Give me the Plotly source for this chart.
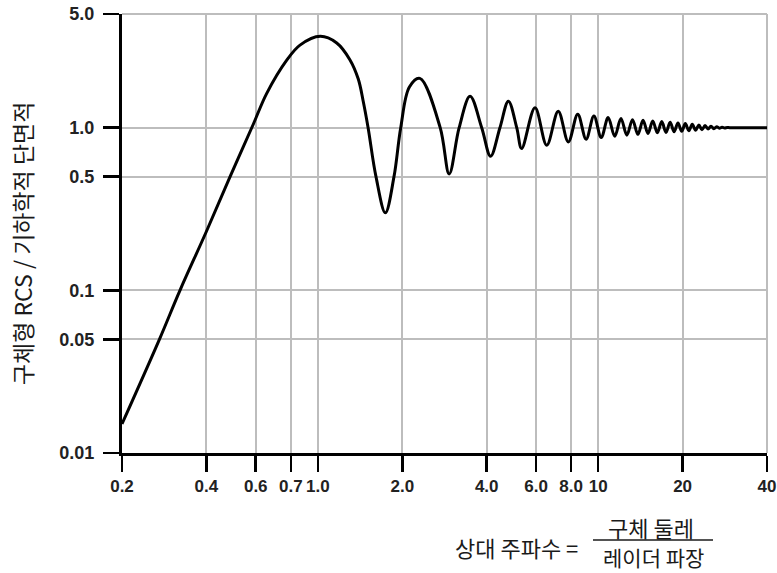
import math
import plotly.graph_objects as go

# Relative frequency (sphere circumference / radar wavelength)
ka = [0.2, 0.272, 0.322, 0.40, 0.486, 0.588, 0.656, 0.774, 0.863, 1.02,
      1.167, 1.30, 1.393, 1.45, 1.51, 1.611, 1.74, 1.868, 1.974, 2.12,
      2.31, 2.73, 2.94, 3.19, 3.49, 3.84, 4.13, 4.46, 4.78, 5.12,
      5.33, 5.95, 6.55, 7.2, 7.82, 8.45, 9.05, 9.65, 10.25, 10.85,
      11.45, 12.05, 12.65, 13.25, 13.85, 14.45, 15.05, 15.65, 16.25, 16.85,
      17.45, 18.05, 18.65, 19.25, 19.85, 20.45, 21.05, 21.65, 22.25, 22.85,
      23.45, 24.05, 24.65, 25.25, 25.85, 26.45, 27.05, 27.65, 28.25, 28.85,
      29.5, 40.0]

# Sphere RCS / geometric cross section
rcs = [0.0151, 0.050, 0.100, 0.23, 0.50, 1.05, 1.62, 2.60, 3.22, 3.65,
       3.32, 2.62, 1.99, 1.46, 1.0, 0.50, 0.30, 0.50, 1.0, 1.78,
       2.01, 1.0, 0.52, 1.0, 1.56, 1.0, 0.668, 1.0, 1.456, 1.0,
       0.745, 1.324, 0.78, 1.264, 0.818, 1.21, 0.85, 1.18, 0.87, 1.155,
       0.885, 1.14, 0.90, 1.12, 0.91, 1.11, 0.92, 1.10, 0.93, 1.09,
       0.935, 1.08, 0.945, 1.07, 0.95, 1.06, 0.958, 1.05, 0.965, 1.04,
       0.972, 1.03, 0.98, 1.022, 0.986, 1.014, 0.992, 1.007, 0.997, 1.003,
       1.0, 1.0]

x_tick_vals = [0.2, 0.4, 0.6, 0.8, 1, 2, 4, 6, 8, 10, 20, 40]
x_tick_text = ["0.2", "0.4", "0.6", "0.7", "1.0", "2.0", "4.0", "6.0", "8.0", "10", "20", "40"]
y_tick_vals = [0.01, 0.05, 0.1, 0.5, 1, 5]
y_tick_text = ["0.01", "0.05", "0.1", "0.5", "1.0", "5.0"]

y_title = "구체형 RCS / 기하학적 단면적"
x_title_left = "상대 주파수 ="
x_title_num = "구체 둘레"
x_title_den = "레이더 파장"

fig = go.Figure(go.Scatter(
    x=ka, y=rcs, mode="lines",
    line=dict(color="black", width=3, shape="spline", smoothing=1.0),
    hoverinfo="skip",
))

x_tick_font = dict(family="Liberation Sans, Arial, sans-serif", size=17, color="#222222", weight="bold")
y_tick_font = dict(family="Liberation Sans, Arial, sans-serif", size=18, color="#222222", weight="bold")
kr_font_y = dict(family="Noto Sans CJK KR, Noto Sans, sans-serif", size=23, color="#1a1a1a")
kr_font_x = dict(family="Noto Sans CJK KR, Noto Sans, sans-serif", size=22, color="#1a1a1a")
kr_font_den = dict(family="Noto Sans CJK KR, Noto Sans, sans-serif", size=21, color="#1a1a1a")

axis_common = dict(
    type="log", ticks="outside", ticklen=16, tickwidth=2.5, tickcolor="black",
    showline=True, linecolor="black", linewidth=3,
    showgrid=True, gridcolor="#bdbdbd", gridwidth=2, zeroline=False,
    tickmode="array", tickangle=0, automargin=False,
)

fig.update_xaxes(range=[math.log10(0.2), math.log10(40)],
                 tickvals=x_tick_vals, ticktext=x_tick_text, tickfont=x_tick_font,
                 ticklabelstandoff=0, **axis_common)
fig.update_yaxes(range=[math.log10(0.01), math.log10(5)],
                 tickvals=y_tick_vals, ticktext=y_tick_text, tickfont=y_tick_font,
                 ticklabelstandoff=5, **axis_common)

fig.update_layout(
    width=777, height=573,
    margin=dict(l=122, r=10, t=14, b=120, autoexpand=False),
    paper_bgcolor="white", plot_bgcolor="white",
    showlegend=False,
    annotations=[
        dict(text=y_title, xref="paper", yref="paper", x=-0.155, y=0.478,
             xanchor="center", yanchor="middle", textangle=-90, showarrow=False, font=kr_font_y),
        dict(text=x_title_left, xref="paper", yref="paper", x=0.6116, y=-0.2141,
             xanchor="center", yanchor="middle", showarrow=False, font=kr_font_x),
        dict(text=x_title_num, xref="paper", yref="paper", x=0.8202, y=-0.1686,
             xanchor="center", yanchor="middle", showarrow=False, font=kr_font_x),
        dict(text=x_title_den, xref="paper", yref="paper", x=0.8248, y=-0.2369,
             xanchor="center", yanchor="middle", showarrow=False, font=kr_font_den,
             borderpad=0),
    ],
    shapes=[
        dict(type="line", xref="paper", yref="paper", x0=0.7302, x1=0.9163,
             y0=-0.1982, y1=-0.1982, line=dict(color="#1a1a1a", width=1.5)),
        dict(type="line", xref="paper", yref="paper", x0=0, x1=1, y0=1, y1=1,
             line=dict(color="#bdbdbd", width=2), layer="below"),
        dict(type="line", xref="paper", yref="paper", x0=1, x1=1, y0=0, y1=1,
             line=dict(color="#bdbdbd", width=2), layer="below"),
    ],
)

# remove the default 8px page margin so the 777x573 figure fills the window exactly
fig.write_html("out.html",
               config={"displayModeBar": False, "staticPlot": True},
               post_script="document.body.style.margin='0';document.body.style.overflow='hidden';")
